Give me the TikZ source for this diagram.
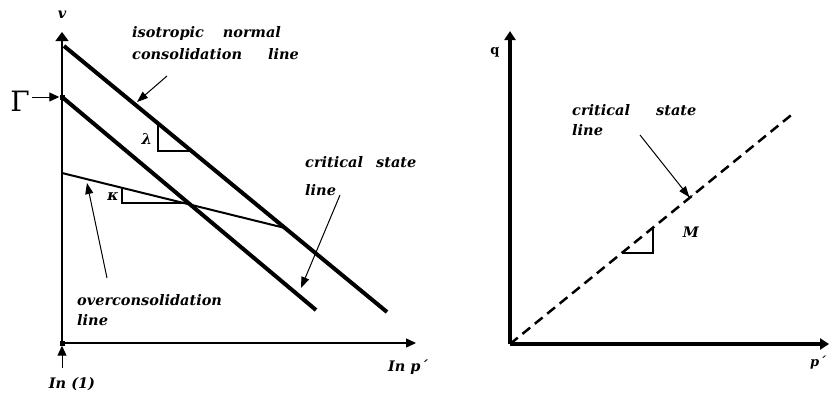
\documentclass[tikz,border=0pt]{standalone}
\usepackage{fontspec}
\setmainfont{DejaVu Serif}
\usetikzlibrary{arrows.meta}
\begin{document}
\begin{tikzpicture}[x=1pt,y=-1pt,
  lbl/.style={font=\bfseries\itshape\fontsize{14.5}{16}\selectfont, inner sep=0pt, anchor=west},
  heavy/.style={line width=4pt},
  axisL/.style={line width=1.4pt},
  axisR/.style={line width=3.5pt, -{Triangle[length=9pt,width=11pt]}},
  ptr/.style={line width=1pt, -{Triangle[length=11pt,width=8pt]}},
  tri/.style={line width=1.2pt},
  greek/.style={font=\bfseries\itshape\fontsize{15}{17}\selectfont, inner sep=0pt},
  marker/.style={fill=black, minimum size=5pt, inner sep=0pt, draw=none}]
\useasboundingbox (0,0) rectangle (829,394);

% ---------- left diagram ----------
\coordinate (O) at (62,343);
\coordinate (vtop) at (62,32);
\coordinate (xend) at (416,343);
\coordinate (G) at (62,97);
\node[marker] (Gm) at (G) {};
\node[marker] (Om) at (O) {};
\draw[axisL, -{Triangle[length=9pt,width=13pt]}] (O) -- (vtop);
\draw[axisL, -{Triangle[length=10pt,width=9pt]}] (O) -- (xend);
\node[lbl, anchor=center] (vlab) at (62,15) {v};
\node[lbl, anchor=center] (xlab) at (408,367) {In p´};
\node[lbl, anchor=center] (onelab) at (72,384) {In (1)};
\coordinate (onestart) at (62,368);
\draw[line width=1pt, -{Triangle[length=10pt,width=9pt]}] (onestart) -- (Om.south);
\node[font=\fontsize{28}{30}\selectfont, inner sep=0pt] (Glab) at (20,101) {Γ};
\coordinate (Gstart) at (32,97);
\draw[line width=1pt, -{Triangle[length=10pt,width=9pt]}] (Gstart) -- (Gm.west);

% isotropic normal consolidation line
\coordinate (N1) at (64,46);
\coordinate (N2) at (387,312);
\draw[heavy] (N1) -- (N2);
% critical state line
\coordinate (C1) at (62,97);
\coordinate (C2) at (316,310);
\draw[heavy] (C1) -- (C2);
% overconsolidation line
\coordinate (S1) at (62,173);
\coordinate (S2) at (285,228);
\draw[line width=2pt] (S1) -- (S2);

% lambda triangle
\draw[tri] (158,125) -- (158,151) -- (190,151);
\node[greek] (lam) at (147,139) {λ};
% kappa triangle
\draw[tri] (122,188) -- (122,203) -- (185,203);
\node[greek] (kap) at (113,197) {κ};

% labels
\node[lbl] (ncl1) at (132,33) {isotropic\hspace{1.3em}normal};
\node[lbl] (ncl2) at (132,54) {consolidation\hspace{1.8em}line};
\coordinate (nclA) at (167,76);
\coordinate (nclB) at (137,102);
\draw[ptr] (nclA) -- (nclB);

\node[lbl] (csl1) at (305,162) {critical\hspace{0.9em}state};
\node[lbl] (csl2) at (305,190) {line};
\coordinate (cslA) at (340,195);
\coordinate (cslB) at (301,288);
\draw[ptr] (cslA) -- (cslB);

\node[lbl] (ocl1) at (77,300) {overconsolidation};
\node[lbl] (ocl2) at (77,320) {line};
\coordinate (oclA) at (107,278);
\coordinate (oclB) at (87,183);
\draw[ptr] (oclA) -- (oclB);

% ---------- right diagram ----------
\coordinate (Q0) at (510,344);
\coordinate (Qtop) at (510,31);
\coordinate (Pend) at (829,344);
\draw[axisR] (Q0) -- (Qtop);
\draw[axisR] (Q0) -- (Pend);
\node[font=\bfseries\fontsize{13}{15}\selectfont, inner sep=0pt] (qlab) at (495,52) {q};
\node[lbl, anchor=center, font=\bfseries\itshape\fontsize{13}{15}\selectfont] (plab) at (818,363) {p´};
\coordinate (D2) at (795,112);
\draw[line width=2.5pt, dash pattern=on 10pt off 6pt] (Q0) -- (D2);
\draw[tri] (622,253) -- (653,253) -- (653,228);
\node[lbl, anchor=center] (Mlab) at (691,232) {M};
\node[lbl] (rc1) at (572,110) {critical\hspace{1.8em}state};
\node[lbl] (rc2) at (572,130) {line};
\coordinate (rcA) at (640,135);
\coordinate (rcB) at (690,198);
\draw[line width=1pt, -{Triangle[length=11pt,width=8pt] Bar[width=7pt]}] (rcA) -- (rcB);
\end{tikzpicture}
\end{document}
